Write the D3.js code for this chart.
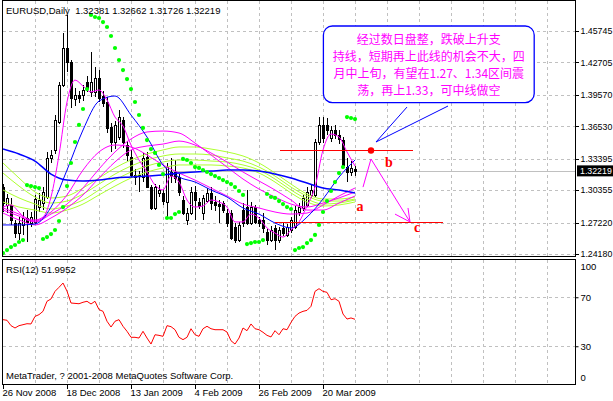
<!DOCTYPE html>
<html><head><meta charset="utf-8">
<script src="https://cdn.jsdelivr.net/npm/d3@7"></script>
<style>html,body{margin:0;padding:0;background:#fff;}svg{display:block;font-family:"Liberation Sans",Arial,sans-serif;}</style>
</head><body><svg id="c" width="613" height="401"></svg>
<script>
// ---------- DATA ----------
const openP=[1.3065,1.2892,1.2892,1.2718,1.2621,1.2699,1.2766,1.2718,1.2728,1.2872,1.2911,1.2969,1.3347,1.3424,1.3695,1.4052,1.4410,1.4275,1.3917,1.3956,1.3956,1.4081,1.3985,1.3985,1.4120,1.3946,1.3888,1.3646,1.3501,1.3549,1.3714,1.3472,1.3356,1.3182,1.3172,1.3162,1.3356,1.3065,1.2863,1.3008,1.3008,1.2921,1.3211,1.3211,1.3162,1.2940,1.2747,1.2814,1.3018,1.2921,1.2814,1.2930,1.3008,1.2921,1.2901,1.2911,1.2814,1.2814,1.2679,1.2553,1.2843,1.2872,1.2718,1.2872,1.2747,1.2747,1.2631,1.2553,1.2670,1.2553,1.2670,1.2602,1.2650,1.2679,1.2824,1.2863,1.2892,1.2989,1.2989,1.3501,1.3666,1.3666,1.3540,1.3617,1.3569,1.3520,1.3259,1.3211,1.32381];
const highP=[1.3094,1.2998,1.2960,1.2747,1.2775,1.2824,1.2843,1.2824,1.2989,1.3008,1.3065,1.3405,1.3424,1.3762,1.4081,1.4555,1.4729,1.4294,1.4023,1.3994,1.4052,1.4139,1.4372,1.4226,1.4197,1.3994,1.3936,1.3685,1.3704,1.3810,1.3742,1.3510,1.3424,1.3240,1.3220,1.3395,1.3405,1.3085,1.3094,1.3085,1.3046,1.3298,1.3347,1.3327,1.3191,1.2979,1.2863,1.3065,1.3075,1.2960,1.2989,1.3056,1.3065,1.2979,1.2940,1.2930,1.2853,1.2843,1.2718,1.2728,1.2911,1.3037,1.2921,1.2892,1.2775,1.2814,1.2660,1.2689,1.2699,1.2679,1.2718,1.2708,1.2775,1.2882,1.2911,1.2989,1.3065,1.3085,1.3530,1.3742,1.3742,1.3733,1.3656,1.3666,1.3617,1.3549,1.3347,1.3317,1.32662];
const lowP=[1.2824,1.2814,1.2699,1.2573,1.2553,1.2602,1.2534,1.2679,1.2708,1.2824,1.2843,1.2950,1.3298,1.3385,1.3675,1.4032,1.4178,1.3830,1.3849,1.3878,1.3897,1.3985,1.3936,1.3936,1.3888,1.3839,1.3588,1.3405,1.3433,1.3520,1.3443,1.3317,1.3153,1.3085,1.3018,1.3114,1.3056,1.2843,1.2843,1.2969,1.2892,1.2775,1.3104,1.3104,1.2979,1.2795,1.2699,1.2795,1.2747,1.2853,1.2747,1.2911,1.2843,1.2833,1.2718,1.2814,1.2679,1.2553,1.2524,1.2534,1.2679,1.2699,1.2699,1.2708,1.2679,1.2621,1.2505,1.2534,1.2456,1.2524,1.2592,1.2582,1.2621,1.2660,1.2785,1.2833,1.2872,1.2960,1.2969,1.3472,1.3491,1.3569,1.3501,1.3530,1.3481,1.3250,1.3114,1.3172,1.31726];
const closeP=[1.2911,1.2960,1.2747,1.2621,1.2718,1.2766,1.2728,1.2775,1.2950,1.2940,1.3018,1.3347,1.3376,1.3714,1.4052,1.4410,1.4275,1.3927,1.3956,1.3927,1.4004,1.4023,1.4081,1.4120,1.3927,1.3878,1.3637,1.3501,1.3666,1.3742,1.3501,1.3376,1.3182,1.3162,1.3182,1.3347,1.3065,1.2863,1.3065,1.3037,1.2930,1.3259,1.3182,1.3153,1.3018,1.2814,1.2814,1.3018,1.2940,1.2882,1.2960,1.3008,1.2911,1.2892,1.2882,1.2843,1.2718,1.2573,1.2553,1.2699,1.2718,1.2718,1.2872,1.2728,1.2718,1.2670,1.2553,1.2650,1.2553,1.2650,1.2621,1.2679,1.2747,1.2843,1.2872,1.2960,1.3018,1.3037,1.3501,1.3666,1.3540,1.3617,1.3617,1.3569,1.3530,1.3279,1.3211,1.3250,1.32219];
const sarP=[1.2427,1.2456,1.2485,1.2505,1.2534,1.2553,1.3085,1.3075,1.3065,1.3056,
1.2563,1.2582,1.2611,1.2650,1.2737,1.2872,1.3075,1.3298,1.3501,1.3666,
1.3820,1.4013,1.4729,1.4710,1.4700,1.4661,1.4613,1.4526,1.4410,1.4294,
1.4197,1.4110,1.4013,1.3888,1.3762,1.3637,1.3520,1.3433,1.3395,1.3279,
1.3191,1.2766,1.2766,1.2804,1.2824,1.3337,1.3327,1.3298,1.3259,1.3250,
1.3230,1.3211,1.3191,1.3172,1.3153,1.3133,1.3114,1.3094,1.3065,1.3027,
1.2989,1.2514,1.2524,1.2534,1.2534,1.2553,1.2998,1.2969,1.2960,1.2930,
1.2901,1.2872,1.2853,1.2456,1.2476,1.2485,1.2524,1.2553,1.2602,1.2699,
1.2824,1.2930,1.3027,1.3114,1.3201,1.3259,1.3742,1.3733,1.3723];
const rsi=[51.7,51.2,46.8,44.9,46.8,47.6,48.4,48.2,54.4,55.8,
58.5,66.7,68.6,74.8,78.1,81.6,75.0,65.3,65.0,64.7,
65.9,66.7,64.5,66.7,59.9,58.5,50.4,45.7,50.4,51.7,
46.3,42.2,37.3,37.3,36.7,42.2,36.7,31.8,39.4,38.9,
38.1,46.8,46.0,43.5,37.3,35.4,37.3,44.3,39.4,38.1,
44.3,46.3,44.3,43.5,43.5,43.5,41.6,34.5,31.8,36.7,
44.9,42.7,48.2,44.3,43.5,41.4,38.9,37.6,42.7,39.4,
44.3,43.5,49.5,54.4,57.1,58.5,59.3,62.6,74.8,77.0,
74.8,74.0,68.0,68.8,66.7,56.3,52.2,53.1,52.0];
// moving averages read every 4th bar (slow ones) / every 2nd bar (fast one)
const maBars4=d3.range(0,89,4);
const maBars2=d3.range(0,89,2);
const blueSlow=[1.3433,1.3385,1.3317,1.3191,1.3133,1.3124,1.3133,1.3153,1.3162,1.3172,1.3182,1.3201,1.3211,1.3220,1.3230,1.3230,1.3220,1.3191,1.3153,1.3104,1.3056,1.3037,1.3008];
const blueFast=[1.2699,1.2699,1.2708,1.2872,1.3230,1.3617,1.3897,1.3946,1.3762,1.3549,1.3279,1.3162,1.3114,1.3037,1.2969,1.2863,1.2804,1.2718,1.2670,1.2775,1.2950,1.3162,1.3327];
const magFast=[1.2872,1.2892,1.2824,1.2747,1.2747,1.2775,1.2969,1.3376,1.3888,1.4100,1.4042,1.3985,1.4004,1.3907,1.3742,1.3656,1.3472,1.3327,1.3211,1.3085,1.3037,1.3172,1.3114,1.2940,1.2872,1.2882,1.2940,1.2921,1.2872,1.2728,1.2728,1.2804,1.2766,1.2670,1.2621,1.2582,1.2650,1.2728,1.2882,1.3065,1.3424,1.3578,1.3549,1.3405,1.3269];
const mag2=[1.2843,1.2785,1.2728,1.2804,1.2901,1.3056,1.3240,1.3405,1.3530,1.3598,1.3607,1.3588,1.3491,1.3376,1.3259,1.3143,1.3046,1.2969,1.2901,1.2872,1.2911,1.2960,1.3018];
const mag3=[1.2814,1.2747,1.2699,1.2766,1.2863,1.2989,1.3153,1.3308,1.3424,1.3462,1.3481,1.3510,1.3472,1.3395,1.3308,1.3211,1.3124,1.3037,1.2940,1.2843,1.2843,1.2911,1.2979];
const mag4=[1.2863,1.2804,1.2737,1.2824,1.2989,1.3230,1.3405,1.3472,1.3453,1.3376,1.3279,1.3201,1.3133,1.3056,1.2979,1.2901,1.2863,1.2824,1.2804,1.2814,1.2892,1.2979,1.3056];
const lime1=[1.3298,1.3153,1.3018,1.2960,1.2979,1.3056,1.3153,1.3250,1.3327,1.3385,1.3424,1.3453,1.3453,1.3433,1.3405,1.3366,1.3298,1.3201,1.3094,1.2998,1.2950,1.2950,1.2969];
const lime2=[1.3201,1.3075,1.2969,1.2911,1.2930,1.2998,1.3094,1.3191,1.3269,1.3327,1.3366,1.3385,1.3385,1.3376,1.3347,1.3317,1.3259,1.3172,1.3065,1.2979,1.2930,1.2930,1.2950];
const lime3=[1.3037,1.2960,1.2901,1.2853,1.2882,1.2940,1.3037,1.3133,1.3211,1.3269,1.3308,1.3327,1.3327,1.3317,1.3308,1.3279,1.3230,1.3143,1.3037,1.2950,1.2901,1.2911,1.2940];
const lime4=[1.2921,1.2872,1.2843,1.2814,1.2843,1.2901,1.2989,1.3075,1.3153,1.3211,1.3250,1.3279,1.3279,1.3279,1.3269,1.3250,1.3201,1.3114,1.3008,1.2921,1.2882,1.2892,1.2921];
const priceTicks=[1.45745,1.42705,1.39570,1.36530,1.33395,1.30355,1.27220,1.24180];
const rsiTicks=[100,70,30,0];
const dateBars=[0,16,32,48,64,80];
const dateLabels=["26 Nov 2008","18 Dec 2008","13 Jan 2009","4 Feb 2009","26 Feb 2009","20 Mar 2009"];
const gridBars=d3.range(8,137,8);
const lastPrice=1.32219;
const titleText="EURUSD,Daily  1.32381 1.32662 1.31726 1.32219";
const rsiText="RSI(12) 51.9952";
const copyText="MetaTrader, ? 2001-2008 MetaQuotes Software Corp.";
const noteLines=["经过数日盘整，跌破上升支","持线，短期再上此线的机会不大，四","月中上旬，有望在1.27、1.34区间震","荡，再上1.33，可中线做空"];
// annotation anchors (bar index, price)
const noteBox={i0:80.1,i1:132.8,p0:1.4623,p1:1.3881};
const pointer=[[111.25,1.3849],[93.25,1.3501],[101,1.3839]];
const redLines=[{p:1.3424,i0:69.25,i1:102.5},{p:1.2725,i0:68,i1:110}];
const redDot={i:92,p:1.3424};
const zigzag=[[90,1.3065],[92,1.3337],[101.75,1.2728]];
const arrowHead=[[98,1.2804],[101.75,1.2728],[101.25,1.2863]];
const waveLabels=[{t:"a",i:89.25,p:1.2882},{t:"b",i:96.5,p:1.3308},{t:"c",i:103.5,p:1.2679}];

// ---------- SCALES ----------
const xS=d3.scaleLinear().domain([0,88]).range([3,355]);
const yP=d3.scaleLinear().domain([1.24180,1.45745]).range([254,31]);
const yR=d3.scaleLinear().domain([0,100]).range([383,260.5]);
const svg=d3.select('#c');
const L=2.5,R=575.5,MT=0.5,MB=256.5,RT=259.5,RB=384.5;
const defs=svg.append('defs');
defs.append('clipPath').attr('id','cm').append('rect').attr('x',L+0.5).attr('y',MT+0.5).attr('width',R-L-1).attr('height',MB-MT-1);
defs.append('clipPath').attr('id','cr').append('rect').attr('x',L+0.5).attr('y',RT+0.5).attr('width',R-L-1).attr('height',RB-RT-1);
const gM=svg.append('g').attr('clip-path','url(#cm)');
const gR=svg.append('g').attr('clip-path','url(#cr)');
const gridC='#c0c0c0';
// grids
gM.selectAll('.hg').data(priceTicks).join('line').attr('x1',L).attr('x2',R)
 .attr('y1',d=>Math.round(yP(d))+0.5).attr('y2',d=>Math.round(yP(d))+0.5)
 .attr('stroke',gridC).attr('stroke-dasharray','3,3').attr('shape-rendering','crispEdges');
gM.selectAll('.vg').data(gridBars).join('line').attr('y1',MT).attr('y2',MB)
 .attr('x1',d=>Math.round(xS(d))+0.5).attr('x2',d=>Math.round(xS(d))+0.5)
 .attr('stroke',gridC).attr('stroke-dasharray','3,3').attr('shape-rendering','crispEdges');
gR.selectAll('.hg').data([70,30]).join('line').attr('x1',L).attr('x2',R)
 .attr('y1',d=>Math.round(yR(d))+0.5).attr('y2',d=>Math.round(yR(d))+0.5)
 .attr('stroke',gridC).attr('stroke-dasharray','3,3').attr('shape-rendering','crispEdges');
gR.selectAll('.vg').data(gridBars).join('line').attr('y1',RT).attr('y2',RB)
 .attr('x1',d=>Math.round(xS(d))+0.5).attr('x2',d=>Math.round(xS(d))+0.5)
 .attr('stroke',gridC).attr('stroke-dasharray','3,3').attr('shape-rendering','crispEdges');
// bid line
gM.append('line').attr('x1',L).attr('x2',R).attr('y1',Math.round(yP(lastPrice))+0.5).attr('y2',Math.round(yP(lastPrice))+0.5)
 .attr('stroke','#c0c0c0').attr('shape-rendering','crispEdges');
// candles
const bars=d3.range(openP.length).map(i=>({i,o:openP[i],h:highP[i],l:lowP[i],c:closeP[i]}));
const gC=gM.append('g').attr('shape-rendering','crispEdges');
bars.forEach(b=>{
  const cx=Math.round(xS(b.i));
  gC.append('line').attr('x1',cx+0.5).attr('x2',cx+0.5).attr('y1',yP(b.h)).attr('y2',yP(b.l)).attr('stroke','#000');
  const top=Math.round(yP(Math.max(b.o,b.c))), bot=Math.round(yP(Math.min(b.o,b.c)));
  if(b.c>=b.o){
    gC.append('rect').attr('x',cx-0.5).attr('y',top+0.5).attr('width',2).attr('height',Math.max(1,bot-top)).attr('fill','#fff').attr('stroke','#000');
  } else {
    gC.append('rect').attr('x',cx-1).attr('y',top).attr('width',3).attr('height',Math.max(1,bot-top+1)).attr('fill','#000');
  }
});
// lines
function drawLine(g,idx,vals,color,w){
  const ln=d3.line().x(d=>xS(d[0])).y(d=>yP(d[1])).curve(d3.curveMonotoneX);
  g.append('path').attr('d',ln(idx.map((b,k)=>[b,vals[k]]))).attr('fill','none').attr('stroke',color).attr('stroke-width',w);
}
const limeC='#adff2f', magC='#ff00ff', blueC='#0000ff';
[lime1,lime2,lime3,lime4].forEach(v=>drawLine(gM,maBars4,v,limeC,1));
[mag2,mag3,mag4].forEach(v=>drawLine(gM,maBars4,v,magC,1));
drawLine(gM,maBars4,blueSlow,blueC,1.5);
drawLine(gM,maBars4,blueFast,blueC,1);
drawLine(gM,maBars2,magFast,magC,1);
// SAR
gM.selectAll('.sar').data(sarP).join('circle').attr('cx',(d,i)=>xS(i)).attr('cy',d=>yP(d)).attr('r',2.1).attr('fill','#00ff00');
// annotations
redLines.forEach(r=>gM.append('line').attr('x1',xS(r.i0)).attr('x2',xS(r.i1)).attr('y1',Math.round(yP(r.p))+0.5).attr('y2',Math.round(yP(r.p))+0.5).attr('stroke','#ff0000').attr('stroke-width',1.2));
gM.append('circle').attr('cx',xS(redDot.i)).attr('cy',Math.round(yP(redDot.p))+0.5).attr('r',3.2).attr('fill','#ff0000');
const pl=d3.line().x(d=>xS(d[0])).y(d=>yP(d[1]));
gM.append('path').attr('d',pl(pointer)).attr('fill','none').attr('stroke',blueC).attr('stroke-width',1);
gM.append('path').attr('d',pl(zigzag)).attr('fill','none').attr('stroke',magC).attr('stroke-width',1);
gM.append('path').attr('d',pl(arrowHead)).attr('fill','none').attr('stroke',magC).attr('stroke-width',1);
gM.selectAll('.wl').data(waveLabels).join('text').attr('x',d=>xS(d.i)).attr('y',d=>yP(d.p)).attr('dy','0.35em')
 .attr('text-anchor','middle').attr('font-family','"Liberation Serif","Times New Roman",serif').attr('font-weight','bold').attr('font-size',14).attr('fill','#ff0000').text(d=>d.t);
// note box
const bx0=xS(noteBox.i0), bx1=xS(noteBox.i1), by0=yP(noteBox.p0), by1=yP(noteBox.p1);
gM.append('rect').attr('x',bx0).attr('y',by0).attr('width',bx1-bx0).attr('height',by1-by0).attr('rx',9).attr('ry',9)
 .attr('fill','#fff').attr('stroke',blueC).attr('stroke-width',1.3);
gM.selectAll('.nt').data(noteLines).join('text').attr('x',(bx0+bx1)/2).attr('y',(d,i)=>by0+14+i*16.8).attr('dy','0.36em')
 .attr('text-anchor','middle').attr('font-family','"Noto Sans CJK SC",sans-serif').attr('font-size',12).attr('fill',magC).text(d=>d);
// RSI line
const rl=d3.line().x((d,i)=>xS(i)).y(d=>yR(d));
gR.append('path').attr('d',rl(rsi)).attr('fill','none').attr('stroke','#ff0000').attr('stroke-width',1);
// panel borders
svg.append('rect').attr('x',L).attr('y',MT).attr('width',R-L).attr('height',MB-MT).attr('fill','none').attr('stroke','#000').attr('shape-rendering','crispEdges');
svg.append('rect').attr('x',L).attr('y',RT).attr('width',R-L).attr('height',RB-RT).attr('fill','none').attr('stroke','#000').attr('shape-rendering','crispEdges');
// axes
const fs=9.5, fsA=8.8;
const ax=svg.append('g').attr('transform',`translate(${R},0)`)
 .call(d3.axisRight(yP).tickValues(priceTicks).tickSize(3).tickPadding(2).tickFormat(d3.format('.5f')));
ax.select('.domain').remove();
ax.attr('font-family','"Liberation Sans",Arial,sans-serif').attr('font-size',fsA);
ax.selectAll('line').attr('shape-rendering','crispEdges');
// current price box
const yl=yP(lastPrice);
svg.append('rect').attr('x',577).attr('y',yl-5.5).attr('width',36).attr('height',11).attr('fill','#000');
svg.append('text').attr('x',R+4.5).attr('y',yl).attr('dy','0.34em').attr('font-size',fsA).attr('fill','#fff').text(d3.format('.5f')(lastPrice));
const ar=svg.append('g').attr('transform',`translate(${R},0)`)
 .call(d3.axisRight(yR).tickValues(rsiTicks).tickSize(3).tickPadding(2));
ar.select('.domain').remove();
ar.attr('font-family','"Liberation Sans",Arial,sans-serif').attr('font-size',fs);
ar.selectAll('.tick').filter(d=>d===100||d===0).select('line').remove();
ar.selectAll('.tick text').attr('y',d=>d===100?6.2:(d===0?-5.3:0));
const ab=svg.append('g').attr('transform',`translate(0,${RB})`)
 .call(d3.axisBottom(xS).tickValues(dateBars).tickSize(4).tickFormat((d,i)=>dateLabels[i]));
ab.select('.domain').remove();
ab.attr('font-family','"Liberation Sans",Arial,sans-serif').attr('font-size',fs);
ab.selectAll('.tick line').attr('shape-rendering','crispEdges');
ab.selectAll('.tick text').attr('text-anchor','start').attr('x',-1).attr('y',5);
// texts
svg.append('text').attr('x',6).attr('y',14).attr('font-size',fs).attr('xml:space','preserve').style('white-space','pre').text(titleText);
svg.append('text').attr('x',6).attr('y',273).attr('font-size',fs).text(rsiText);
svg.append('text').attr('x',6).attr('y',379).attr('font-size',fs).text(copyText);
</script></body></html>
